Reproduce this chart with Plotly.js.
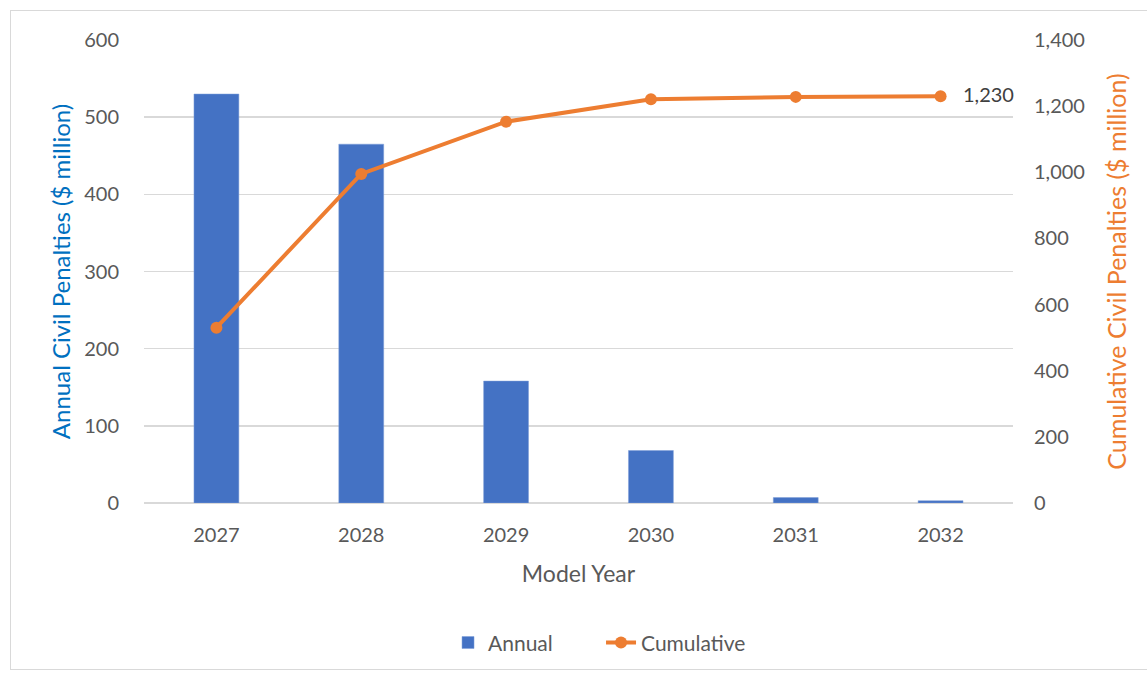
<!DOCTYPE html>
<html>
<head>
<meta charset="utf-8">
<script src="https://cdn.plot.ly/plotly-3.0.1.min.js"></script>
<style>
  html, body { margin: 0; padding: 0; background: #fff; }
  #frame { position: absolute; left: 10px; top: 10px; width: 1150px; height: 660px; border: 1px solid #d9d9d9; box-sizing: border-box; }
  #chart { position: absolute; left: 0; top: 0; width: 1147px; height: 676px; }
</style>
</head>
<body>
<div id="frame"></div>
<div id="chart"></div>
<script>
const years = ["2027", "2028", "2029", "2030", "2031", "2032"];
const annual = [530, 465, 158, 68, 7, 3];
const cumulative = [530, 995, 1153, 1221, 1228, 1230];
const lastLabel = "1,230";

const font = "Lato, 'Open Sans', sans-serif";

const traces = [
  {
    type: "bar", name: "Annual", x: years, y: annual,
    marker: { color: "#4472C4", line: { color: "#7f9fd9", width: 0.5 } },
    width: 0.31, yaxis: "y", hoverinfo: "x+y"
  },
  {
    type: "scatter", mode: "lines+markers", name: "Cumulative", x: years, y: cumulative,
    line: { color: "#ED7D31", width: 4 },
    marker: { color: "#ED7D31", size: 12 },
    yaxis: "y2"
  }
];

const layout = {
  width: 1147, height: 676,
  paper_bgcolor: "rgba(0,0,0,0)", plot_bgcolor: "rgba(0,0,0,0)",
  margin: { l: 144, r: 134, t: 40, b: 173, autoexpand: false },
  font: { family: font, color: "#595959", size: 20 },
  showlegend: true,
  legend: { orientation: "h", x: 0.524, xanchor: "center", xref: "container",
            y: 0.049, yanchor: "middle", yref: "container", entrywidth: 108,
            font: { size: 21, color: "#595959" }, traceorder: "normal" },
  xaxis: {
    type: "category", range: [-0.5, 5.5], showgrid: false, automargin: false,
    showline: false, zeroline: false, ticks: "",
    tickfont: { size: 20, color: "#595959" }, ticklabelstandoff: 18,
    title: { text: "Model Year", font: { size: 23, color: "#595959" }, standoff: 20 }
  },
  yaxis: {
    range: [0, 600], dtick: 100, showgrid: true, gridcolor: "#d9d9d9", gridwidth: 1.5,
    zeroline: true, zerolinecolor: "#d9d9d9", zerolinewidth: 1.5, automargin: false,
    ticks: "", tickfont: { size: 20, color: "#595959" }, ticklabelstandoff: 24,
    title: { text: "Annual Civil Penalties ($ million)", font: { size: 24, color: "#0070C0" }, standoff: 6 }
  },
  yaxis2: {
    range: [0, 1400], dtick: 200, overlaying: "y", side: "right", showgrid: false, zeroline: false,
    automargin: false,
    tickformat: ",d", ticks: "", tickfont: { size: 20, color: "#595959" }, ticklabelstandoff: 20,
    title: { text: "Cumulative Civil Penalties ($ million)", font: { size: 25, color: "#ED7D31" }, standoff: 24 }
  },
  annotations: [
    { x: years.length - 1, y: cumulative[cumulative.length - 1], xref: "x", yref: "y2",
      text: lastLabel, showarrow: false, xanchor: "left", xshift: 20, yshift: 2,
      font: { size: 20, color: "#404040", family: font } }
  ]
};

Plotly.newPlot("chart", traces, layout, { displayModeBar: false, staticPlot: true });
</script>
</body>
</html>
